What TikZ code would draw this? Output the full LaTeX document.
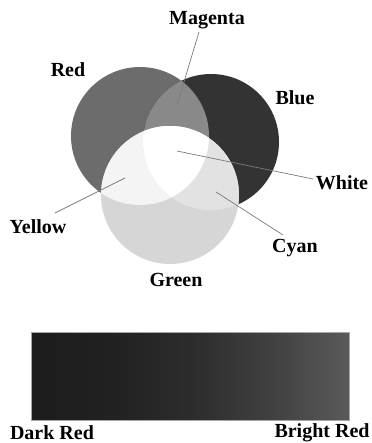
\documentclass[tikz,border=0pt]{standalone}
\usepackage{fontspec}
\setmainfont{Liberation Serif}
\definecolor{cred}{HTML}{6C6C6C}
\definecolor{cblue}{HTML}{333333}
\definecolor{cgreen}{HTML}{D6D6D6}
\definecolor{cmag}{HTML}{898989}
\definecolor{cyel}{HTML}{F4F4F4}
\definecolor{ccyan}{HTML}{E2E2E2}
\definecolor{cleader}{HTML}{7A7A7A}
\definecolor{bar0}{HTML}{1C1C1C}
\definecolor{bar1}{HTML}{212121}
\definecolor{bar2}{HTML}{2C2C2C}
\definecolor{bar3}{HTML}{404040}
\definecolor{bar4}{HTML}{5A5A5A}
\pgfdeclarehorizontalshading{redbar}{100bp}{color(0bp)=(bar0); color(25bp)=(bar0); color(37.5bp)=(bar1); color(50bp)=(bar2); color(62.5bp)=(bar3); color(75bp)=(bar4); color(100bp)=(bar4)}
\tikzset{
  lbl/.style={font=\fontsize{20}{24}\selectfont\bfseries, inner sep=0pt, text=black},
  leader/.style={draw=cleader, line width=0.7pt},
}
\begin{document}
\begin{tikzpicture}[x=1pt,y=-1pt]
\useasboundingbox (0,0) rectangle (371,443);
\coordinate (R) at (140,136);
\coordinate (B) at (211,142);
\coordinate (G) at (170,195);
\def\rr{69}\def\rb{68}\def\rg{69}
% base circles
\fill[cred] (R) circle[radius=\rr];
\fill[cblue] (B) circle[radius=\rb];
\fill[cgreen] (G) circle[radius=\rg];
% red & blue
\begin{scope}
  \clip (R) circle[radius=\rr];
  \fill[cmag] (B) circle[radius=\rb];
\end{scope}
% red & green
\begin{scope}
  \clip (R) circle[radius=\rr];
  \fill[cyel] (G) circle[radius=\rg];
\end{scope}
% blue & green
\begin{scope}
  \clip (B) circle[radius=\rb];
  \fill[ccyan] (G) circle[radius=\rg];
\end{scope}
% all three
\begin{scope}
  \clip (R) circle[radius=\rr];
  \clip (B) circle[radius=\rb];
  \fill[white] (G) circle[radius=\rg];
\end{scope}
% labels
\node[lbl] (magenta) at (207,20) {Magenta};
\node[lbl] (red) at (68,70) {Red};
\node[lbl] (blue) at (295,98) {Blue};
\node[lbl] (white) at (342,183) {White};
\node[lbl] (yellow) at (38,227) {Yellow};
\node[lbl] (cyan) at (295,248) {Cyan};
\node[lbl] (green) at (176,280) {Green};
% leader endpoints
\coordinate (mA) at (199,32);  \coordinate (mB) at (177,105);
\coordinate (wA) at (313,179); \coordinate (wB) at (177,151);
\coordinate (yA) at (55,213);  \coordinate (yB) at (125,178);
\coordinate (cA) at (283,235); \coordinate (cB) at (216,192);
\draw[leader] (mA) -- (mB);
\draw[leader] (wA) -- (wB);
\draw[leader] (yA) -- (yB);
\draw[leader] (cA) -- (cB);
% gradient bar
\node[draw=black!35, line width=0.6pt, shading=redbar, minimum width=318pt, minimum height=88pt, inner sep=0pt, anchor=north west] (bar) at (31,332) {};
\node[lbl] (dark) at (52,433) {Dark Red};
\node[lbl] (bright) at (322,433) {Bright Red};
\end{tikzpicture}
\end{document}
